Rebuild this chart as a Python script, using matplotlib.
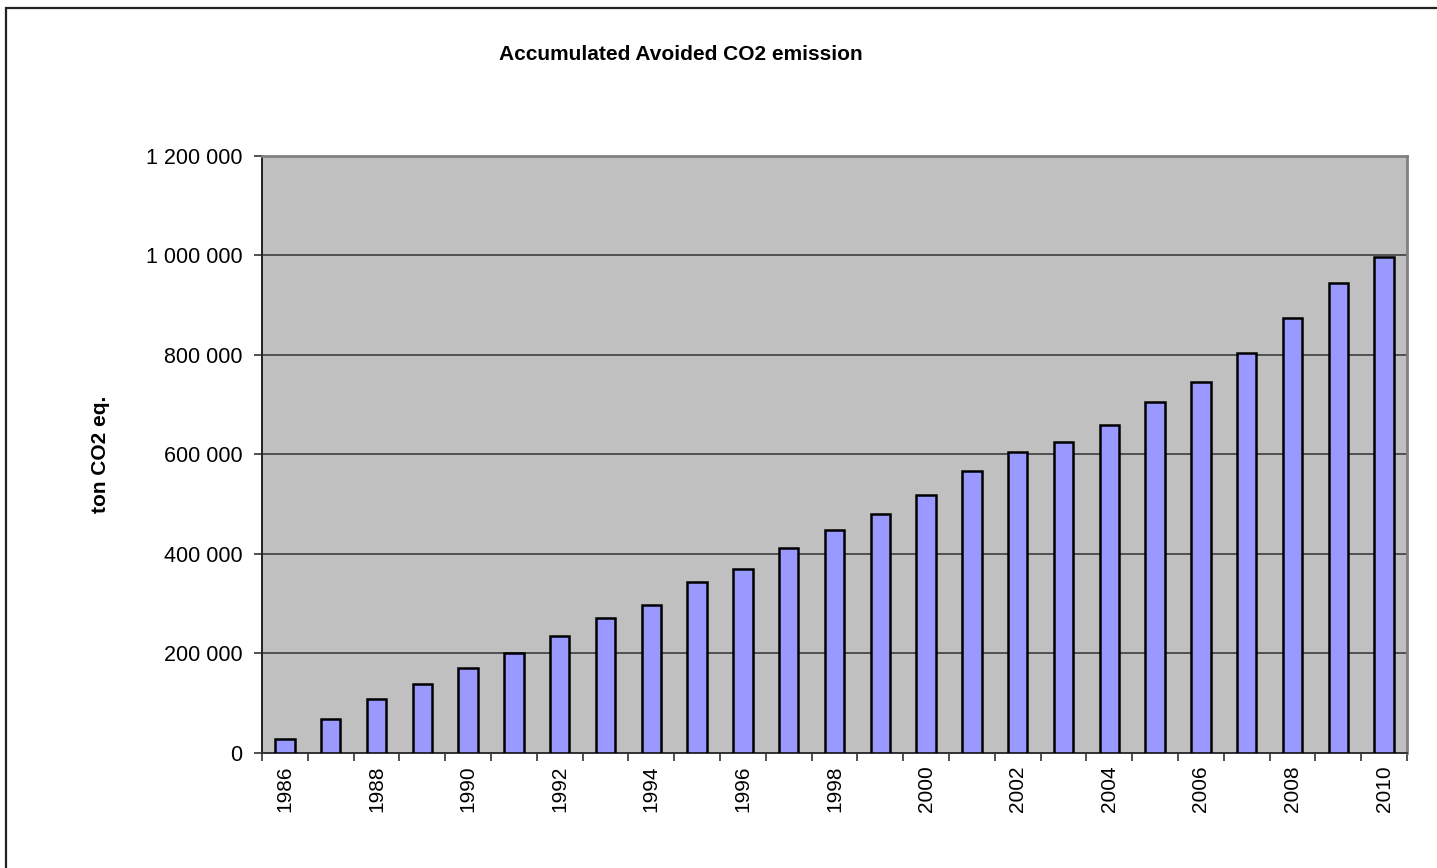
import matplotlib
matplotlib.use("Agg")
import matplotlib.pyplot as plt
from matplotlib.patches import Rectangle
from matplotlib.ticker import FuncFormatter, FixedLocator
import numpy as np

plt.rcParams['font.family'] = ['Liberation Sans', 'DejaVu Sans']

# accumulated avoided emission per year (ton CO2 eq.)
years = list(range(1986, 2011))
avoided = [27500, 67000, 107000, 138000, 170000, 201000, 235000, 270000, 298000,
           343000, 370000, 411000, 447000, 481000, 519000, 567000, 605000, 624000,
           660000, 705000, 745000, 804000, 875000, 945000, 996000]
yticks = [0, 200000, 400000, 600000, 800000, 1000000, 1200000]

fig = plt.figure(figsize=(14.37, 8.68), dpi=100)
fig.patch.set_facecolor('white')

# outer frame of the chart object
fig.patches.append(Rectangle((6 / 1437, -0.05), 1.1, 0.05 + (868 - 8) / 868,
                             transform=fig.transFigure, fill=False,
                             edgecolor='#222222', linewidth=1.6))

ax = fig.add_axes([262 / 1437, (868 - 752.7) / 868,
                   (1407 - 262) / 1437, (752.7 - 156) / 868])
ax.set_facecolor('#C0C0C0')

x = np.arange(len(years))
ax.bar(x, avoided, width=0.42, color='#9999FF', edgecolor='black',
       linewidth=1.8, zorder=3)

ax.set_xlim(-0.5, len(years) - 0.5)
ax.set_ylim(0, 1200000)
ax.set_yticks(yticks)
ax.yaxis.set_major_formatter(FuncFormatter(lambda v, p: f"{int(v):,}".replace(",", " ")))
ax.grid(axis='y', color='#333333', linewidth=1.1, zorder=1)

# labels on every other year, ticks between categories
ax.xaxis.set_major_locator(FixedLocator(x[::2]))
ax.set_xticklabels([str(y) for y in years[::2]], rotation=90)
ax.xaxis.set_minor_locator(FixedLocator(np.arange(-0.5, len(years))))
ax.tick_params(axis='x', which='major', length=0, pad=9, labelsize=15)
ax.tick_params(axis='x', which='minor', length=6, width=1.2, color='#333333')
ax.tick_params(axis='y', length=6, width=1.2, color='#333333', labelsize=15.5, pad=8)

for side in ('top', 'right'):
    ax.spines[side].set_color('#808080')
    ax.spines[side].set_linewidth(2)
ax.spines['left'].set_color('#222222')
ax.spines['left'].set_linewidth(1.4)
ax.spines['bottom'].set_color('#333333')
ax.spines['bottom'].set_linewidth(1.4)

fig.text(681 / 1437, 1 - 55 / 868, 'Accumulated Avoided CO2 emission',
         ha='center', va='center', fontsize=15, fontweight='bold')
fig.text(100 / 1437, 1 - 454 / 868, 'ton CO2 eq.', rotation=90,
         ha='center', va='center', fontsize=15, fontweight='bold')

fig.savefig('out.png', dpi=100)
